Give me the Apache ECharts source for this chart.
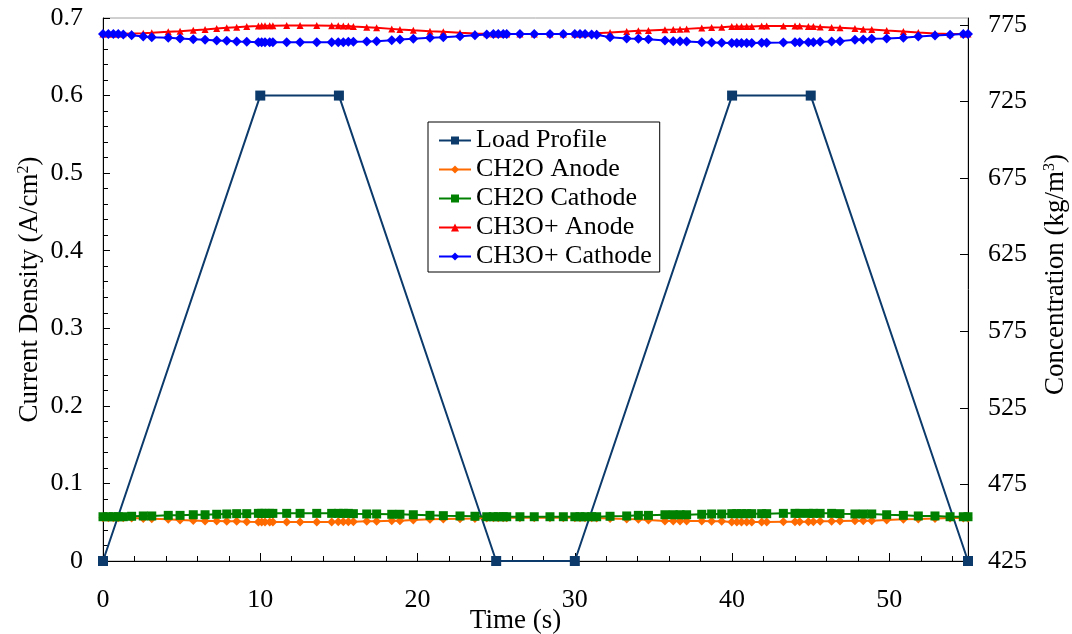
<!DOCTYPE html>
<html>
<head>
<meta charset="utf-8">
<script src="https://cdn.jsdelivr.net/npm/echarts@6/dist/echarts.min.js"></script>
<style>
  html, body { margin: 0; padding: 0; background: #fff; }
  #chart { width: 1072px; height: 634px; }
</style>
</head>
<body>
<div id="chart"></div>
<script>
// Load profile: current density (A/cm2) at the corners of the duty cycle
const loadTime = [0, 10, 15, 25, 30, 40, 45, 55];
const loadDensity = [0, 0.6, 0.6, 0, 0, 0.6, 0.6, 0];

// Solver output times (s) for the concentration traces
const timeS = [
  0, 0.34, 0.66, 0.97, 1.29, 1.82, 2.56, 3.1, 4.15, 4.9,
  5.74, 6.49, 7.23, 7.87, 8.5, 9.14, 9.88, 10.09, 10.3, 10.6,
  10.8, 11.68, 12.53, 13.59, 14.54, 14.96, 15.28, 15.6, 15.92, 16.77,
  17.4, 18.36, 18.88, 19.73, 20.79, 21.64, 22.7, 23.65, 24.4, 24.82,
  25.13, 25.45, 25.67, 26.51, 27.42, 28.42, 29.27, 30.0, 30.33, 30.65,
  31.07, 31.39, 32.24, 33.3, 34.04, 34.68, 35.73, 36.26, 36.69, 37.11,
  38.07, 38.7, 39.34, 39.98, 40.3, 40.6, 40.93, 41.25, 41.88, 42.2,
  43.26, 44.0, 44.3, 44.85, 45.17, 45.6, 46.33, 46.86, 47.81, 48.34,
  48.88, 49.83, 50.89, 51.84, 52.9, 53.86, 54.7, 55
];

// Concentrations (kg/m3)
const ch2oAnode = [
  453.3, 453.3, 453.3, 453.3, 453.3, 453.1, 452.8, 452.6, 452.2, 451.8,
  451.5, 451.1, 451.1, 450.9, 450.9, 450.7, 450.5, 450.5, 450.5, 450.5,
  450.5, 450.5, 450.5, 450.5, 450.5, 450.7, 450.7, 450.7, 450.7, 450.9,
  450.9, 451.3, 451.3, 451.8, 452.2, 452.4, 452.6, 452.8, 453.1, 453.3,
  453.3, 453.3, 453.3, 453.3, 453.3, 453.3, 453.3, 453.3, 453.3, 453.3,
  453.3, 453.1, 452.8, 452.4, 452.2, 451.8, 451.1, 451.1, 451.1, 451.1,
  451.1, 450.9, 450.9, 450.5, 450.5, 450.5, 450.5, 450.5, 450.5, 450.5,
  450.7, 450.7, 450.7, 450.7, 450.7, 450.9, 450.9, 451.1, 451.3, 451.3,
  451.3, 451.8, 452.2, 452.4, 452.8, 453.1, 453.1, 453.1
];
const ch2oCathode = [
  453.9, 453.9, 453.9, 453.9, 453.9, 454.2, 454.4, 454.4, 454.8, 454.8,
  455.2, 455.2, 455.5, 455.7, 455.9, 455.9, 456.1, 456.1, 456.1, 456.1,
  456.1, 456.1, 456.1, 456.1, 456.1, 456.1, 456.1, 456.1, 455.9, 455.7,
  455.7, 455.5, 455.5, 455.2, 454.8, 454.6, 454.4, 454.2, 453.9, 453.9,
  453.9, 453.9, 453.9, 453.9, 453.9, 453.9, 453.9, 453.9, 453.9, 453.9,
  453.9, 453.9, 454.2, 454.4, 454.8, 454.8, 455.2, 455.2, 455.2, 455.2,
  455.5, 455.7, 455.7, 455.9, 455.9, 455.9, 455.9, 455.9, 455.9, 455.9,
  456.1, 456.1, 456.1, 456.1, 456.1, 456.1, 456.1, 455.9, 455.7, 455.7,
  455.7, 455.2, 454.8, 454.4, 454.4, 453.9, 453.9, 453.9
];
const ch3oAnode = [
  769.0, 769.0, 769.0, 769.0, 769.2, 769.4, 769.6, 769.8, 770.5, 770.9,
  771.5, 772.0, 772.6, 773.1, 773.5, 773.9, 774.2, 774.4, 774.4, 774.4,
  774.4, 774.6, 774.6, 774.6, 774.4, 774.4, 774.2, 774.2, 773.9, 773.5,
  773.1, 772.4, 772.0, 771.5, 770.9, 770.5, 769.8, 769.4, 769.2, 769.0,
  769.0, 769.0, 769.0, 769.0, 769.0, 769.0, 769.0, 769.0, 769.0, 769.2,
  769.4, 769.6, 770.0, 770.7, 771.1, 771.3, 771.8, 772.0, 772.2, 772.4,
  772.9, 773.3, 773.5, 773.9, 773.9, 773.9, 773.9, 773.9, 774.2, 774.2,
  774.2, 774.2, 774.2, 773.9, 773.9, 773.7, 773.3, 773.1, 772.6, 772.2,
  772.0, 771.3, 770.7, 770.0, 769.4, 769.0, 769.0, 769.0
];
const ch3oCathode = [
  769.0, 769.0, 769.0, 769.0, 768.7, 768.3, 767.4, 767.0, 766.6, 766.1,
  765.7, 765.3, 764.8, 764.6, 764.2, 764.0, 763.7, 763.7, 763.7, 763.7,
  763.7, 763.7, 763.7, 763.7, 763.7, 763.7, 763.7, 764.0, 764.0, 764.2,
  764.4, 765.0, 765.5, 765.9, 766.6, 767.0, 767.6, 768.3, 768.7, 769.0,
  769.0, 769.0, 769.0, 769.0, 769.0, 769.0, 769.0, 769.0, 769.0, 769.0,
  768.7, 768.5, 767.0, 766.1, 765.9, 765.7, 764.8, 764.4, 764.4, 764.2,
  763.7, 763.5, 763.3, 763.1, 763.1, 763.1, 763.1, 763.1, 763.3, 763.3,
  763.5, 763.7, 763.7, 763.7, 763.7, 764.0, 764.2, 764.4, 765.3, 765.5,
  765.9, 766.1, 766.6, 767.4, 768.1, 768.5, 769.0, 769.0
];

const FONT = '"Liberation Serif", "Times New Roman", serif';
const TICK_SIZE = 26;
const TITLE_SIZE = 27;

const pair = (xs, ys) => xs.map((x, i) => [x, ys[i]]);

function concSeries(name, values, color, symbol, size) {
  return {
    name: name,
    type: 'line',
    yAxisIndex: 1,
    data: pair(timeS, values),
    color: color,
    symbol: symbol,
    symbolSize: size,
    lineStyle: { width: 2, color: color },
    itemStyle: { color: color },
    z: 3
  };
}

const titleRich = {
  sup: { fontSize: 16, fontFamily: FONT, color: '#000', verticalAlign: 'top', lineHeight: 16 }
};

const chart = echarts.init(document.getElementById('chart'), null, { renderer: 'canvas' });
chart.setOption({
  animation: false,
  backgroundColor: '#fff',
  textStyle: { fontFamily: FONT, color: '#000' },
  grid: {
    left: 103, right: 104, top: 18, bottom: 73,
    containLabel: false, outerBoundsMode: 'none',
    show: true, borderColor: '#a0a0a0', borderWidth: 1, backgroundColor: '#fff'
  },
  legend: {
    left: 428, top: 122,
    orient: 'vertical',
    backgroundColor: '#fff',
    borderColor: '#000', borderWidth: 1,
    padding: [5, 8, 2, 10],
    itemWidth: 32, itemHeight: 10, itemGap: 2,
    textStyle: { fontFamily: FONT, fontSize: 26, color: '#000', lineHeight: 27 },
    data: ['Load Profile', 'CH2O Anode', 'CH2O Cathode', 'CH3O+ Anode', 'CH3O+ Cathode']
  },
  xAxis: {
    type: 'value', min: 0, max: 55, interval: 10,
    name: 'Time (s)', nameLocation: 'middle', nameGap: 46, nameMoveOverlap: false,
    nameTextStyle: { fontFamily: FONT, fontSize: TITLE_SIZE, color: '#000', padding: [0, 40, 0, 0] },
    axisLine: { onZero: false, lineStyle: { color: '#000', width: 1 } },
    axisTick: { inside: true, length: 8, lineStyle: { color: '#000' } },
    minorTick: { show: true, splitNumber: 5, length: 5, lineStyle: { color: '#000' } },
    axisLabel: { margin: 26, fontFamily: FONT, fontSize: TICK_SIZE, color: '#000', showMaxLabel: false },
    splitLine: { show: false }
  },
  yAxis: [
    {
      type: 'value', position: 'left', min: 0, max: 0.7, interval: 0.1,
      name: 'Current Density (A/cm{sup|2})', nameLocation: 'middle', nameRotate: 90, nameGap: 60, nameMoveOverlap: false,
      nameTextStyle: { fontFamily: FONT, fontSize: TITLE_SIZE, color: '#000', rich: titleRich },
      axisLine: { show: true, onZero: false, lineStyle: { color: '#000', width: 1 } },
      axisTick: { show: true, inside: true, length: 7, lineStyle: { color: '#000' } },
      minorTick: { show: true, splitNumber: 5, length: 5, lineStyle: { color: '#000' } },
      axisLabel: { margin: 20, fontFamily: FONT, fontSize: TICK_SIZE, color: '#000' },
      splitLine: { show: false }
    },
    {
      type: 'value', position: 'right', min: 425, max: 779.5, interval: 50,
      name: 'Concentration (kg/m{sup|3})', nameLocation: 'middle', nameRotate: 90, nameGap: 74, nameMoveOverlap: false,
      nameTextStyle: { fontFamily: FONT, fontSize: TITLE_SIZE, color: '#000', rich: titleRich, padding: [0, 0, 0, 30] },
      axisLine: { show: true, onZero: false, lineStyle: { color: '#000', width: 1 } },
      axisTick: { show: true, inside: true, length: 8, lineStyle: { color: '#000' } },
      axisLabel: { margin: 20, fontFamily: FONT, fontSize: TICK_SIZE, color: '#000', showMaxLabel: false },
      splitLine: { show: false }
    }
  ],
  series: [
    {
      name: 'Load Profile',
      type: 'line',
      yAxisIndex: 0,
      data: pair(loadTime, loadDensity),
      color: '#0b3a6b',
      symbol: 'rect',
      symbolSize: 10,
      lineStyle: { width: 2, color: '#0b3a6b' },
      itemStyle: { color: '#0b3a6b' },
      z: 2
    },
    concSeries('CH2O Anode', ch2oAnode, '#ff6a00', 'diamond', 9),
    concSeries('CH2O Cathode', ch2oCathode, '#008000', 'rect', 9),
    concSeries('CH3O+ Anode', ch3oAnode, '#ff0000', 'triangle', 7),
    concSeries('CH3O+ Cathode', ch3oCathode, '#0000ff', 'diamond', 10)
  ]
});
</script>
</body>
</html>
